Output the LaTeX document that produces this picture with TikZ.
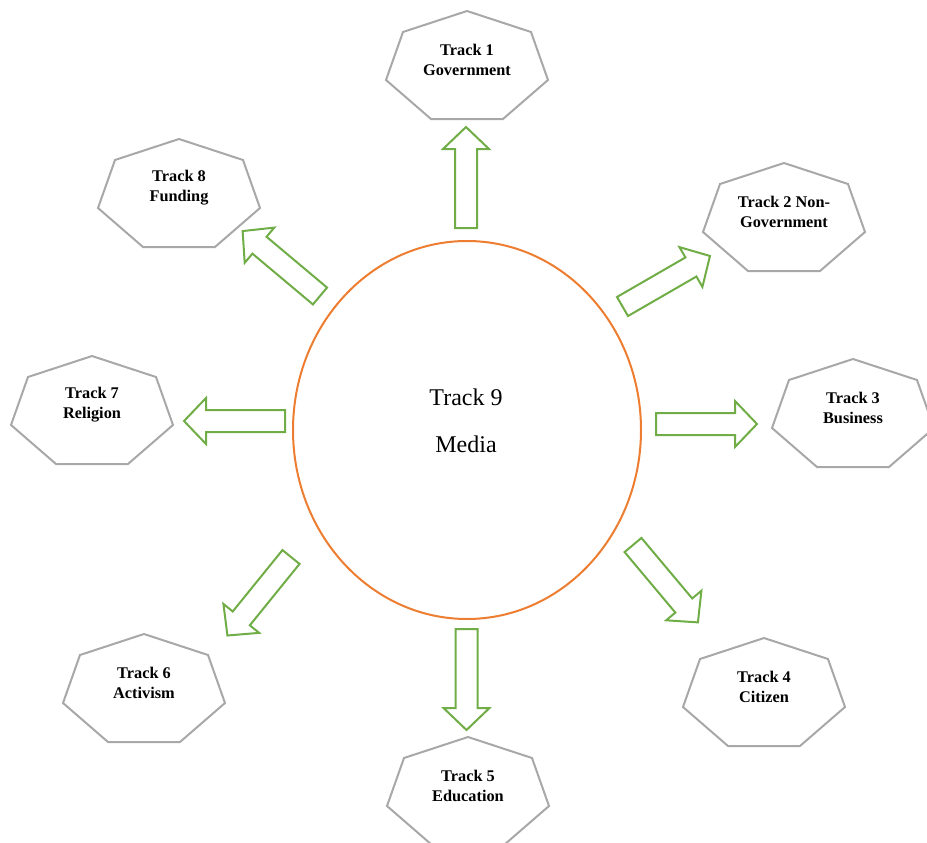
\documentclass[tikz,border=0pt]{standalone}
\usepackage{fontspec}
\setmainfont{Liberation Serif}
\definecolor{arrgreen}{HTML}{70AD47}
\definecolor{heptgrey}{HTML}{A8A8A8}
\definecolor{circorange}{HTML}{ED7D31}
\tikzset{
  heptline/.style={draw=heptgrey, line width=2pt, line join=miter, fill=white},
  hepttext/.style={align=center, inner sep=0pt, font=\fontsize{16.3}{20}\selectfont\bfseries},
  blockarrow/.style={draw=arrgreen, line width=2pt, fill=white, line join=miter},
  centertext/.style={align=center, inner sep=0pt, font=\fontsize{24}{47}\selectfont}
}
\begin{document}
\begin{tikzpicture}[x=1pt,y=-1pt]
\useasboundingbox (0,0) rectangle (927,843);
% central ellipse
\draw[circorange, line width=2pt] (467,430) ellipse [x radius=174, y radius=189];
\node[centertext] (t9) at (466,421) {Track 9\\Media};
% heptagons
\foreach \cx/\ty/\nm/\txt in {
  467/11/t1/{Track 1\\Government},
  784/163/t2/{Track 2 Non-\\Government},
  853/359/t3/{Track 3\\Business},
  764/638/t4/{Track 4\\Citizen},
  468/737/t5/{Track 5\\Education},
  144/634/t6/{Track 6\\Activism},
  92/356/t7/{Track 7\\Religion},
  179/139/t8/{Track 8\\Funding}}{
  \draw[heptline] (\cx,\ty) -- ++(64,21) -- ++(17,48) -- ++(-45,39) -- ++(-72,0) -- ++(-45,-39) -- ++(17,-48) -- cycle;
  \node[hepttext] (\nm) at (\cx,\ty+49) {\txt};
}
% block arrows from the central ellipse
\foreach \tx/\tyy/\ang/\nm in {
  466/228/90/a1,
  622.5/306.5/30/a2,
  656/424/0/a3,
  633/545/-50/a4,
  466.5/629/-90/a5,
  291/557/-129/a6,
  285/421/180/a7,
  320/296/140/a8}{
  \coordinate (\nm) at (\tx,\tyy);
  \begin{scope}[shift={(\nm)}, rotate=\ang]
    \draw[blockarrow] (0,-11) -- (79,-11) -- (79,-23) -- (101,0) -- (79,23) -- (79,11) -- (0,11) -- cycle;
  \end{scope}
}
\end{tikzpicture}
\end{document}
